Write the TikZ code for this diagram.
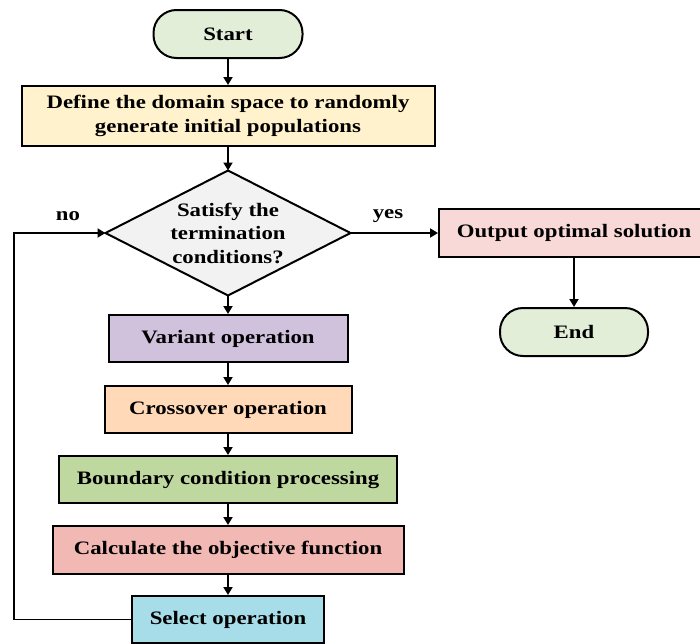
\documentclass[tikz,border=0pt]{standalone}
\usepackage{fontspec}
\setmainfont[FakeStretch=1.2]{Liberation Serif}
\usetikzlibrary{shapes.geometric,arrows.meta}
\definecolor{cterm}{HTML}{E3EED9}
\definecolor{cdef}{HTML}{FFF2CC}
\definecolor{cdia}{HTML}{F2F2F2}
\definecolor{cout}{HTML}{F9D9D8}
\definecolor{cvar}{HTML}{D0C2DD}
\definecolor{ccross}{HTML}{FFD9B8}
\definecolor{cbound}{HTML}{BFD8A0}
\definecolor{ccalc}{HTML}{F2B8B3}
\definecolor{csel}{HTML}{A6DDE9}
\begin{document}
\begin{tikzpicture}[x=1pt,y=-1pt,
  every node/.style={font=\fontsize{19}{23.5}\selectfont\bfseries},
  box/.style={draw,line width=2pt,rectangle,inner sep=0pt,align=center},
  term/.style={box,rounded corners=23pt,fill=cterm,minimum width=149pt,minimum height=48pt},
  arr/.style={line width=1.8pt,-{Triangle[length=8pt,width=9pt]}},
  lbl/.style={inner sep=0pt}]
\useasboundingbox (0,0) rectangle (700,643);
\node[term] (start) at (228,34) {Start};
\node[box,fill=cdef,minimum width=413pt,minimum height=60pt] (def) at (228,116)
  {Define the domain space to randomly\\generate initial populations};
\node[draw,line width=2pt,shape=diamond,fill=cdia,minimum width=245pt,minimum height=125pt,inner sep=0pt,outer sep=0pt] (dia) at (228,233) {};
\node[align=center,inner sep=0pt] (diatext) at (dia.center) {Satisfy the\\termination\\conditions?};
\node[box,fill=cvar,minimum width=239pt,minimum height=47pt] (var) at (228,338.5) {Variant operation};
\node[box,fill=ccross,minimum width=247pt,minimum height=47pt] (cross) at (228,409.5) {Crossover operation};
\node[box,fill=cbound,minimum width=338pt,minimum height=47pt] (bound) at (228,479.5) {Boundary condition processing};
\node[box,fill=ccalc,minimum width=351pt,minimum height=48pt] (calc) at (228,550) {Calculate the objective function};
\node[box,fill=csel,minimum width=192pt,minimum height=47pt] (sel) at (228,619.5) {Select operation};
\node[box,fill=cout,minimum width=270pt,minimum height=48pt] (out) at (574,233) {Output optimal solution};
\node[term,minimum width=148pt] (end) at (574,332) {End};
\coordinate (loop) at (14,400);
\draw[arr] (start) -- (def);
\draw[arr] (def) -- (dia);
\draw[arr] (dia) -- (var);
\draw[arr] (var) -- (cross);
\draw[arr] (cross) -- (bound);
\draw[arr] (bound) -- (calc);
\draw[arr] (calc) -- (sel);
\draw[arr] (dia.east) -- (out.west);
\draw[arr] (out.south -| end) -- (end);
\draw[arr] (sel.west) -| (loop) |- (dia.west);
\node[lbl] (no) at (68,216) {no};
\node[lbl] (yes) at (388,216) {yes};
\end{tikzpicture}
\end{document}
